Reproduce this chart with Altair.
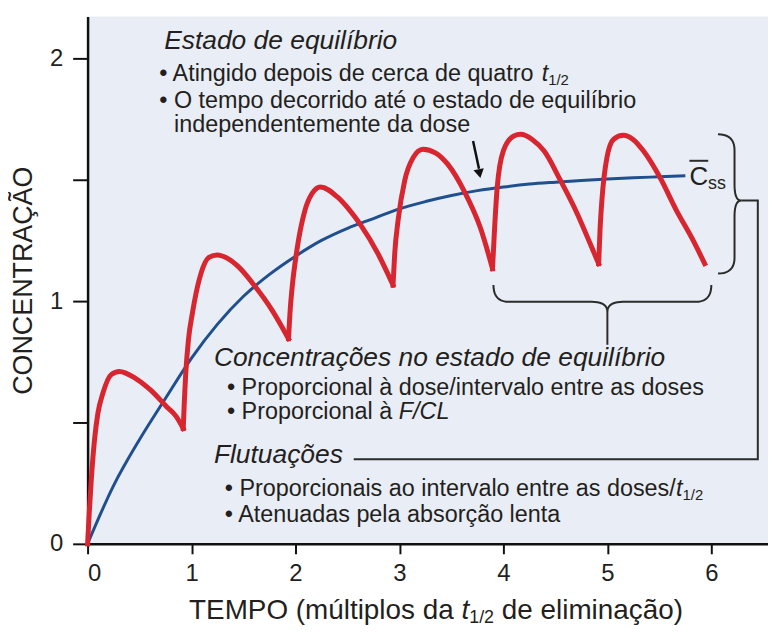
import altair as alt
import pandas as pd

# ---------------- scales ----------------
X_DOMAIN = [0, 6.545]
Y_DOMAIN = [0, 2.172]
PLOT_W, PLOT_H = 684, 530
PX_PER_X = PLOT_W / (X_DOMAIN[1] - X_DOMAIN[0])
PX_PER_Y = PLOT_H / (Y_DOMAIN[1] - Y_DOMAIN[0])

x_ticks = [0, 1, 2, 3, 4, 5, 6]
y_ticks = [0, 0.5, 1, 1.5, 2]

# ---------------- red curve (repeated oral doses), one list per dosing interval ----------------
red_t_0 = [0.00, 0.015, 0.035, 0.067, 0.10, 0.147, 0.227, 0.306, 0.46, 0.61, 0.76, 0.85, 0.92]
red_c_0 = [0.00, 0.12, 0.26, 0.43, 0.54, 0.62, 0.697, 0.71, 0.682, 0.632, 0.565, 0.526, 0.475]
red_t_1 = [0.92, 0.932, 0.944, 0.97, 1.008, 1.088, 1.167, 1.247, 1.35, 1.455, 1.614, 1.774, 1.933]
red_c_1 = [0.475, 0.60, 0.70, 0.84, 0.95, 1.11, 1.18, 1.19, 1.175, 1.14, 1.059, 0.963, 0.845]
red_t_2 = [1.933, 1.95, 1.965, 2.013, 2.09, 2.156, 2.24, 2.40, 2.52, 2.62, 2.80, 2.938]
red_c_2 = [0.845, 0.97, 1.045, 1.209, 1.373, 1.441, 1.47, 1.43, 1.375, 1.318, 1.19, 1.066]
red_t_3 = [2.938, 2.955, 2.986, 3.05, 3.13, 3.225, 3.35, 3.464, 3.62, 3.78, 3.895]
red_c_3 = [1.066, 1.20, 1.33, 1.496, 1.59, 1.626, 1.61, 1.564, 1.455, 1.30, 1.134]
red_t_4 = [3.895, 3.915, 3.94, 4.00, 4.10, 4.166, 4.28, 4.39, 4.55, 4.71, 4.835, 4.916]
red_c_4 = [1.134, 1.30, 1.468, 1.62, 1.68, 1.687, 1.665, 1.619, 1.496, 1.36, 1.236, 1.154]
red_t_5 = [4.916, 4.93, 4.947, 4.995, 5.06, 5.154, 5.25, 5.346, 5.505, 5.665, 5.825, 5.936]
red_c_5 = [1.154, 1.30, 1.414, 1.59, 1.667, 1.683, 1.665, 1.619, 1.51, 1.373, 1.25, 1.154]

# ---------------- blue curve (mean concentration) ----------------
blue_t = [0, 0.25, 0.5, 0.75, 1.0, 1.25, 1.5, 1.75, 2.0, 2.25, 2.5, 2.75, 3.0,
          3.25, 3.5, 3.75, 4.0, 4.25, 4.5, 4.75, 5.0, 5.25, 5.5, 5.75]
blue_c = [0, 0.24, 0.43, 0.60, 0.765, 0.905, 1.02, 1.11, 1.185, 1.25, 1.30, 1.34, 1.38,
          1.41, 1.435, 1.455, 1.47, 1.482, 1.49, 1.497, 1.503, 1.508, 1.512, 1.516]

# ---------------- annotation anchors (data units) ----------------
# bottom brace (steady-state range in time)
bb_left, bb_right, bb_mid = 3.904, 6.0, 5.0
bb_top, bb_bar, bb_tip, bb_stem = 1.066, 0.997, 0.955, 0.82
# right brace (fluctuation range in concentration)
rb_end, rb_stem, rb_tip = 6.064, 6.223, 6.287
rb_top, rb_bot, rb_mid = 1.687, 1.1135, 1.414
conn_right, conn_low, conn_left = 6.447, 0.348, 2.56
# arrow
arrow_x = [3.708, 3.765]
arrow_y = [1.66, 1.545]
arrow_head = (3.770, 1.525)
# C_ss label
css_x, css_y = 5.789, 1.512
css_bar_x = [5.789, 5.97]
css_bar_y = 1.578

RED = "#d7262f"
BLUE = "#1f4f8f"
INK = "#231f20"
FONT = "Liberation Sans"

# ---------------- text helpers ----------------
W = {' ': 278, '•': 350, 'A': 667, 'C': 722, 'E': 667, 'F': 611, 'L': 556, 'M': 833, 'N': 722,
     'O': 778, 'P': 667, 'R': 722, 'T': 611, 'Ç': 722, 'Ã': 667, 'a': 556, 'b': 556, 'c': 500,
     'd': 556, 'e': 556, 'g': 556, 'i': 222, 'l': 222, 'm': 833, 'n': 556, 'o': 556, 'p': 556,
     'q': 556, 'r': 333, 's': 500, 't': 278, 'u': 556, 'v': 500, 'x': 500, 'ç': 500, 'ã': 556,
     'õ': 556, 'à': 556, 'é': 556, 'í': 278, 'ú': 556, '(': 333, ')': 333, '/': 278, '1': 556,
     '2': 556, '0': 556}


def tw(s, size):
    return sum(W.get(ch, 556) for ch in s) * size / 1000.0


SUB_DROP = 6 / PX_PER_Y


def line_pieces(x0, y0, parts):
    rows = []
    xcur = x0
    for text, size, italic, sub in parts:
        stripped = text.lstrip(' ')
        xcur += tw(text[:len(text) - len(stripped)], size) / PX_PER_X
        y = y0 - (SUB_DROP * size / 15.0 if sub else 0)
        rows.append(dict(x=xcur, y=y, text=stripped, size=size, italic=italic))
        xcur += tw(stripped, size) / PX_PER_X
    return rows


H, B, S = 26.5, 23.5, 15
texts = []
texts += line_pieces(0.737, 2.070, [("Estado de equilíbrio", H, True, False)])
texts += line_pieces(0.689, 1.934, [("• Atingido depois de cerca de quatro ", B, False, False),
                                     ("t", B, True, False), ("1/2", S, False, True)])
texts += line_pieces(0.689, 1.824, [("• O tempo decorrido até o estado de equilíbrio", B, False, False)])
texts += line_pieces(0.832, 1.725, [("independentemente da dose", B, False, False)])
texts += line_pieces(1.215, 0.766, [("Concentrações no estado de equilíbrio", H, True, False)])
texts += line_pieces(1.340, 0.643, [("• Proporcional à dose/intervalo entre as doses", B, False, False)])
texts += line_pieces(1.340, 0.541, [("• Proporcional à ", B, False, False), ("F/CL", B, True, False)])
texts += line_pieces(1.215, 0.365, [("Flutuações", H, True, False)])
texts += line_pieces(1.320, 0.225, [("• Proporcionais ao intervalo entre as doses/", B, False, False),
                                     ("t", B, True, False), ("1/2", S, False, True)])
texts += line_pieces(1.320, 0.119, [("• Atenuadas pela absorção lenta", B, False, False)])
texts += line_pieces(0.976, -0.275, [("TEMPO (múltiplos da ", 28, False, False), ("t", 28, True, False),
                                      ("1/2", 18, False, True), (" de eliminação)", 28, False, False)])
texts += line_pieces(css_x, css_y, [("C", 26, False, False), ("ss", 18, False, True)])
text_df = pd.DataFrame(texts)


def qbez(p0, p1, p2, n=10):
    pts = []
    for k in range(n + 1):
        s = k / n
        pts.append(((1 - s) ** 2 * p0[0] + 2 * (1 - s) * s * p1[0] + s * s * p2[0],
                    (1 - s) ** 2 * p0[1] + 2 * (1 - s) * s * p1[1] + s * s * p2[1]))
    return pts


paths = []
cl = 0.15  # curl width (x units)
bottom = (qbez((bb_left, bb_top), (bb_left, bb_bar), (bb_left + cl, bb_bar))
          + qbez((bb_mid - cl, bb_bar), (bb_mid, bb_bar), (bb_mid, bb_tip))
          + qbez((bb_mid, bb_tip), (bb_mid, bb_bar), (bb_mid + cl, bb_bar))
          + qbez((bb_right - cl, bb_bar), (bb_right, bb_bar), (bb_right, bb_top)))
paths.append(bottom)
paths.append([(bb_mid, bb_tip), (bb_mid, bb_stem)])
cv = 0.065  # curl height (y units)
right = (qbez((rb_end, rb_top), (rb_stem, rb_top), (rb_stem, rb_top - cv))
         + qbez((rb_stem, rb_mid + cv), (rb_stem, rb_mid), (rb_tip, rb_mid))
         + qbez((rb_tip, rb_mid), (rb_stem, rb_mid), (rb_stem, rb_mid - cv))
         + qbez((rb_stem, rb_bot + cv), (rb_stem, rb_bot), (rb_end, rb_bot)))
paths.append(right)
paths.append([(rb_tip, rb_mid), (conn_right, rb_mid), (conn_right, conn_low), (conn_left, conn_low)])
paths.append([(css_bar_x[0], css_bar_y), (css_bar_x[1], css_bar_y)])
path_rows = []
for pid, pts in enumerate(paths):
    for i, (px, py) in enumerate(pts):
        path_rows.append(dict(x=px, y=py, path=pid, i=i))
path_df = pd.DataFrame(path_rows)

red_rows = []
for cyc, (ts, cs) in enumerate([(red_t_0, red_c_0), (red_t_1, red_c_1), (red_t_2, red_c_2),
                                (red_t_3, red_c_3), (red_t_4, red_c_4), (red_t_5, red_c_5)]):
    for i, (t, c) in enumerate(zip(ts, cs)):
        red_rows.append(dict(x=t, y=c, cycle=cyc, i=i))
red_df = pd.DataFrame(red_rows)
blue_df = pd.DataFrame(dict(x=blue_t, y=blue_c, i=list(range(len(blue_t)))))
arrow_df = pd.DataFrame(dict(x=arrow_x, y=arrow_y, i=[0, 1]))
head_df = pd.DataFrame(dict(x=[arrow_head[0]], y=[arrow_head[1]]))

# ---------------- encodings ----------------
xs = alt.Scale(domain=X_DOMAIN, nice=False, zero=False)
ys = alt.Scale(domain=Y_DOMAIN, nice=False, zero=False)
X = alt.X("x:Q", scale=xs, title=None,
          axis=alt.Axis(values=x_ticks, grid=False, tickSize=10, labelPadding=8,
                        labelFontSize=24, domainWidth=2.5, tickWidth=2))
Y = alt.Y("y:Q", scale=ys, title="CONCENTRAÇÃO",
          axis=alt.Axis(values=y_ticks, grid=False, tickSize=15, labelPadding=10,
                        labelFontSize=24, domainWidth=2.5, tickWidth=2,
                        labelExpr="datum.value % 1 == 0 ? format(datum.value, 'd') : ''",
                        titleFontSize=27, titlePadding=12))

red = alt.Chart(red_df).mark_line(color=RED, strokeWidth=5, interpolate="monotone",
                                  strokeCap="square").encode(
    x=X, y=Y, detail="cycle:N", order="i:Q")
blue = alt.Chart(blue_df).mark_line(color=BLUE, strokeWidth=3, interpolate="monotone").encode(
    x=X, y=Y, order="i:Q")
lines = alt.Chart(path_df).mark_line(color="#2b2b2b", strokeWidth=2).encode(
    x=X, y=Y, detail="path:N", order="i:Q")
shaft = alt.Chart(arrow_df).mark_line(color="#111111", strokeWidth=2.5).encode(
    x=X, y=Y, order="i:Q")
head = alt.Chart(head_df).mark_point(shape="triangle-down", filled=True, size=110,
                                     angle=349, color="#111111", opacity=1).encode(x=X, y=Y)
txt_norm = alt.Chart(text_df).transform_filter("!datum.italic").mark_text(
    align="left", baseline="middle", font=FONT, color=INK).encode(
    x=X, y=Y, text="text:N", size=alt.Size("size:Q", scale=None))
txt_ital = alt.Chart(text_df).transform_filter("datum.italic").mark_text(
    align="left", baseline="middle", font=FONT, fontStyle="italic", color=INK).encode(
    x=X, y=Y, text="text:N", size=alt.Size("size:Q", scale=None))

chart = alt.layer(blue, red, lines, shaft, head, txt_norm, txt_ital).properties(
    width=PLOT_W, height=PLOT_H,
    padding={"left": 80, "top": 7, "right": 0, "bottom": 90},
    autosize=alt.AutoSizeParams(type="none"),
    background="white",
).configure_view(fill="#e9edf5", stroke=None).configure_axis(
    domainColor="#111111", tickColor="#111111", labelColor=INK, titleColor=INK,
    labelFont=FONT, titleFont=FONT, titleFontWeight="normal",
)

chart.save("out.html", embed_options={"renderer": "svg", "actions": False})
